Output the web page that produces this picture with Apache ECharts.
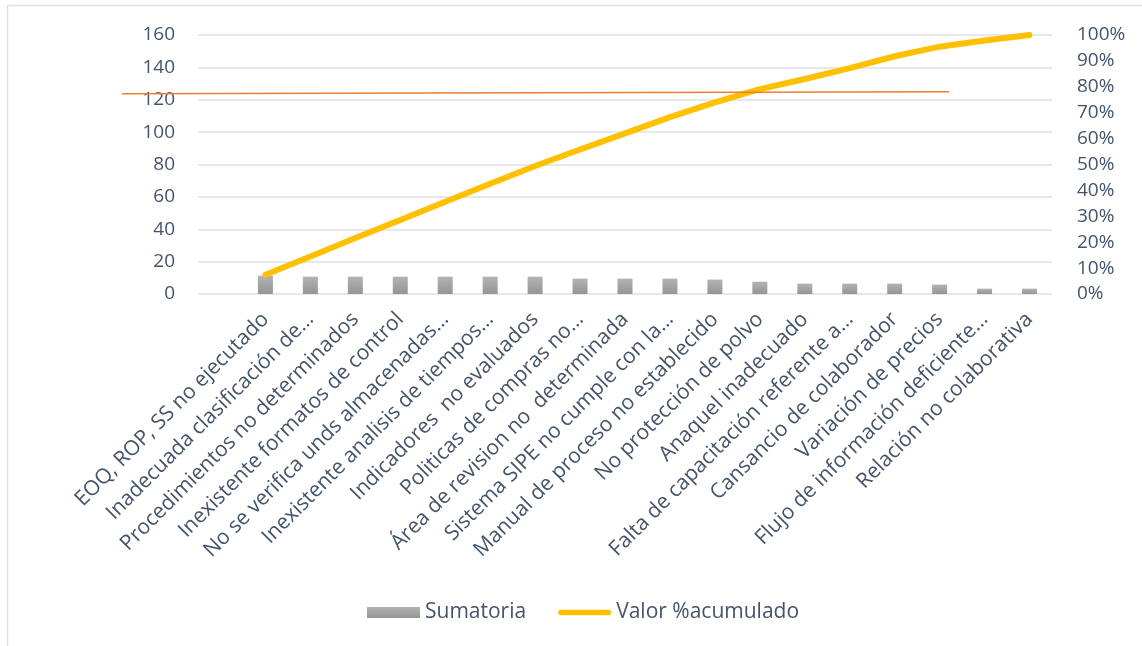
<!DOCTYPE html>
<html>
<head>
<meta charset="utf-8" />
<title>Pareto</title>
<script src="https://cdn.jsdelivr.net/npm/echarts@6/dist/echarts.min.js"></script>
<style>html,body{margin:0;padding:0;background:#fff}#chart{width:1142px;height:646px}</style>
</head>
<body>
<div id="chart"></div>
<script>
// first slot is empty in the original plot area
const categories = [
  "",
  "EOQ, ROP, SS no ejecutado",
  "Inadecuada clasificación de…",
  "Procedimientos no determinados",
  "Inexistente formatos de control",
  "No se verifica unds almacenadas…",
  "Inexistente analisis de tiempos…",
  "Indicadores  no evaluados",
  "Politicas de compras no…",
  "Área de revision no  determinada",
  "Sistema SIPE no cumple con la…",
  "Manual de proceso no establecido",
  "No protección de polvo",
  "Anaquel inadecuado",
  "Falta de capacitación referente a…",
  "Cansancio de colaborador",
  "Variación de precios",
  "Flujo de información deficiente…",
  "Relación no colaborativa"
];
const sumatoria = [null, 11.3, 10.7, 10.7, 10.7, 10.7, 10.7, 10.7, 9.5, 9.5, 9.5, 8.9, 7.6, 6.4, 6.4, 6.4, 5.8, 3.3, 3.3];
const acumulado = [null, 7.4, 14.5, 21.6, 28.6, 35.6, 42.6, 49.4, 55.8, 62.0, 68.3, 74.0, 79.1, 83.0, 87.2, 91.8, 95.5, 97.9, 100];
const leftTicks = { min: 0, max: 160, interval: 20 };
const rightTicks = { min: 0, max: 100, interval: 10 };

const txt = "#44546A";
const font = "Open Sans";
// thick rounded stroke used as the legend mark of the line
const lineIcon = "path://M27,0 L503,0 A27,27 0 0 1 503,54 L27,54 A27,27 0 0 1 27,0 Z";

const chart = echarts.init(document.getElementById("chart"), null, { renderer: "canvas" });
chart.setOption({
  animation: false,
  textStyle: { fontFamily: font },
  grid: { left: 198, right: 90, top: 35, bottom: 352, containLabel: false },
  legend: {
    left: 362, top: 597,
    itemWidth: 53, itemHeight: 11, itemGap: 32,
    textStyle: { color: txt, fontSize: 21, fontFamily: font },
    data: [
      { name: "Sumatoria", icon: "rect" },
      { name: "Valor %acumulado", icon: lineIcon }
    ]
  },
  xAxis: {
    type: "category",
    data: categories,
    axisLine: { show: false },
    axisTick: { show: false },
    axisLabel: { rotate: 45, interval: 0, margin: 22, color: txt, fontSize: 21, fontFamily: font }
  },
  yAxis: [
    {
      type: "value", ...leftTicks,
      axisLabel: { color: txt, fontSize: 19, margin: 23, fontFamily: font },
      splitLine: { lineStyle: { color: "#dde2e8", width: 1.5 } }
    },
    {
      type: "value", ...rightTicks,
      axisLabel: { color: txt, fontSize: 19, margin: 25, fontFamily: font, formatter: "{value}%" },
      splitLine: { show: false }
    }
  ],
  series: [
    {
      name: "Sumatoria",
      type: "bar",
      data: sumatoria,
      barWidth: 15,
      itemStyle: {
        color: new echarts.graphic.LinearGradient(0, 0, 0, 1, [
          { offset: 0, color: "#b3b3b3" },
          { offset: 1, color: "#959595" }
        ])
      }
    },
    {
      name: "Valor %acumulado",
      type: "line",
      yAxisIndex: 1,
      data: acumulado,
      symbol: "none",
      lineStyle: { color: "#FFC000", width: 6, cap: "round", join: "round" },
      itemStyle: { color: "#FFC000" }
    }
  ],
  graphic: [
    // chart frame
    { type: "rect", silent: true, shape: { x: 7.5, y: 5.5, width: 1300, height: 800 },
      style: { fill: "none", stroke: "#dfe3e8", lineWidth: 1.5 } },
    // hand-drawn 80% reference line
    { type: "line", silent: true, z: 10, shape: { x1: 122, y1: 93.8, x2: 949, y2: 91.8 },
      style: { stroke: "#ED7D31", lineWidth: 1.5 } }
  ]
});
</script>
</body>
</html>
